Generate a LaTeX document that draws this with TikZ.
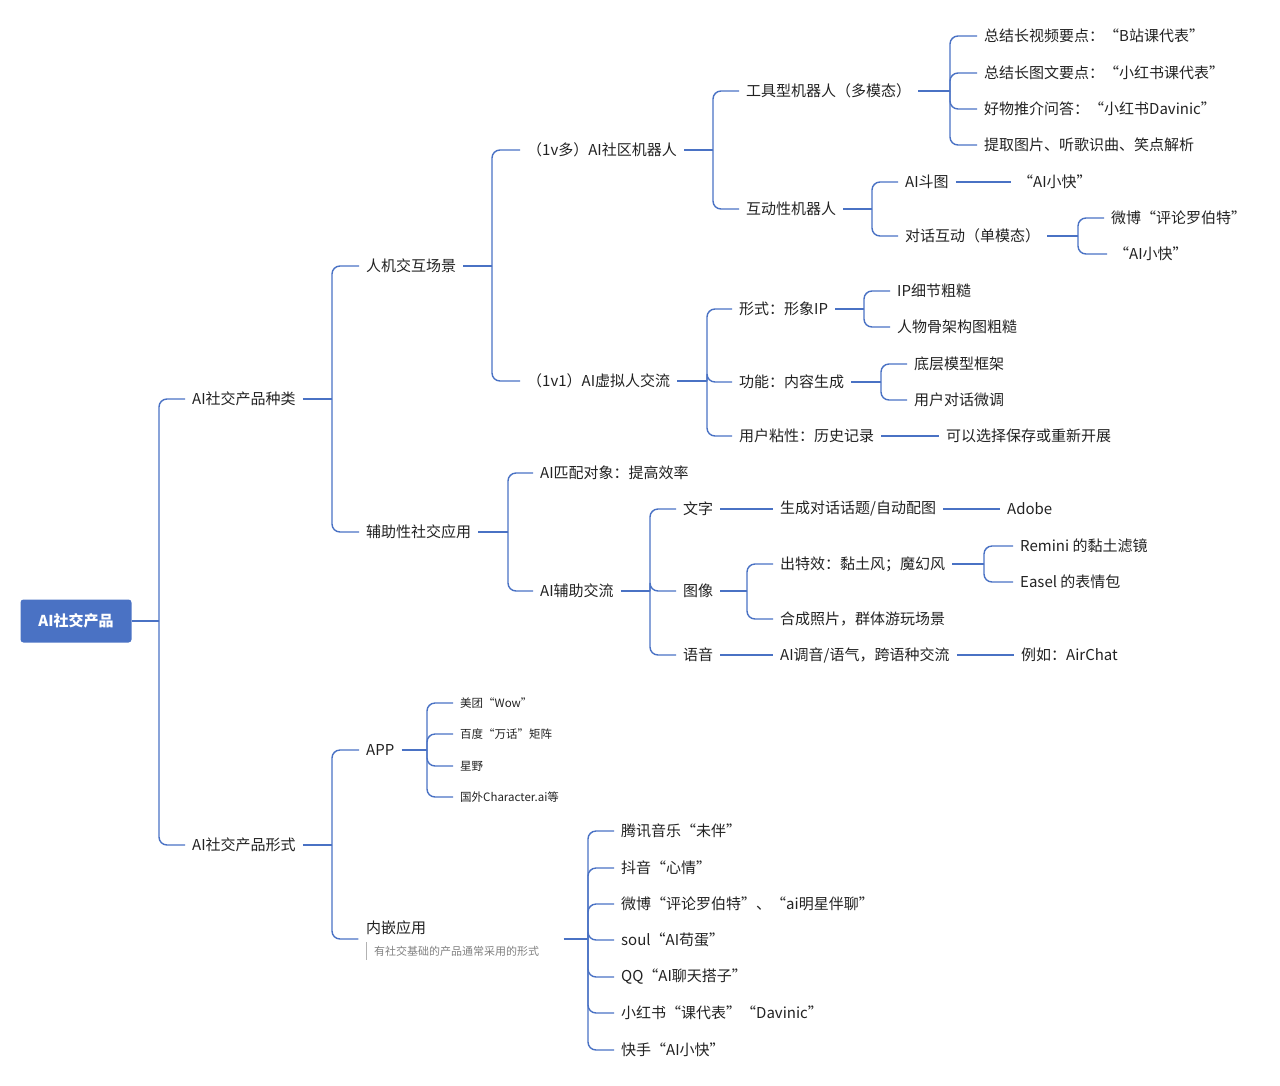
\documentclass[tikz,border=0pt]{standalone}
\usepackage{fontspec}
\setmainfont{Noto Sans CJK SC}
\usetikzlibrary{calc}
\definecolor{lc}{HTML}{4A72C4}
\definecolor{rootc}{HTML}{4A72C4}
\definecolor{tc}{HTML}{222222}
\tikzset{
 t/.style={anchor=west,inner xsep=7pt,inner ysep=2pt,xshift=-7pt,text=tc,font=\fontsize{15}{17}\selectfont},
 s/.style={t,font=\fontsize{11.5}{13}\selectfont},
 conn/.style={draw=lc,line width=1.4pt},
}
\newcommand\bra[3]{%
 \draw[conn] let \p1=(#1.east) in (\p1) -- (#2pt,\y1);
 \foreach \c in {#3}{\draw[conn,rounded corners=8pt] let \p1=(#1.east) in (#2pt,\y1) |- (\c.west);}}
\begin{document}
\begin{tikzpicture}[x=1pt,y=-1pt]
\useasboundingbox (0,0) rectangle (1280,1085);
\node[fill=rootc,rounded corners=3pt,minimum width=111pt,minimum height=43pt,text=white,font=\fontsize{15}{17}\selectfont\bfseries] (root) at (76,621) {AI社交产品};
\node[t] (a) at (192,399) {AI社交产品种类};
\node[t] (b) at (192,845) {AI社交产品形式};
\bra{root}{159}{a,b}
\node[t] (a1) at (366,266) {人机交互场景};
\node[t] (a2) at (366,532) {辅助性社交应用};
\bra{a}{332}{a1,a2}
\node[t] (m1) at (527,150) {（1v多）AI社区机器人};
\node[t] (m2) at (527,381) {（1v1）AI虚拟人交流};
\bra{a1}{492}{m1,m2}
\node[t] (g1) at (746,91) {工具型机器人（多模态）};
\node[t] (g2) at (746,209) {互动性机器人};
\bra{m1}{713}{g1,g2}
\node[t] (h1) at (984,36) {总结长视频要点：“B站课代表”};
\node[t] (h2) at (984,73) {总结长图文要点：“小红书课代表”};
\node[t] (h3) at (984,109) {好物推介问答：“小红书Davinic”};
\node[t] (h4) at (984,145) {提取图片、听歌识曲、笑点解析};
\bra{g1}{950}{h1,h2,h3,h4}
\node[t] (i1) at (905,182) {AI斗图};
\node[t] (i2) at (905,236) {对话互动（单模态）};
\bra{g2}{872}{i1,i2}
\node[t] (i1a) at (1018,182) {“AI小快”};
\draw[conn] (i1.east) -- (i1a.west);
\node[t] (j1) at (1111,218) {微博“评论罗伯特”};
\node[t] (j2) at (1114,254) {“AI小快”};
\bra{i2}{1078}{j1,j2}
\node[t] (k1) at (739,309) {形式：形象IP};
\node[t] (k2) at (739,382) {功能：内容生成};
\node[t] (k3) at (739,436) {用户粘性：历史记录};
\bra{m2}{707}{k1,k2,k3}
\node[t] (l1) at (897,291) {IP细节粗糙};
\node[t] (l2) at (897,327) {人物骨架构图粗糙};
\bra{k1}{864}{l1,l2}
\node[t] (l3) at (914,364) {底层模型框架};
\node[t] (l4) at (914,400) {用户对话微调};
\bra{k2}{881}{l3,l4}
\node[t] (l5) at (946,436) {可以选择保存或重新开展};
\draw[conn] (k3.east) -- (l5.west);
\node[t] (p1) at (540,473) {AI匹配对象：提高效率};
\node[t] (p2) at (540,591) {AI辅助交流};
\bra{a2}{508}{p1,p2}
\node[t] (q1) at (683,509) {文字};
\node[t] (q2) at (683,591) {图像};
\node[t] (q3) at (683,655) {语音};
\bra{p2}{650}{q1,q2,q3}
\node[t] (r1) at (780,509) {生成对话话题/自动配图};
\node[t] (r1a) at (1007,509) {Adobe};
\draw[conn] (q1.east) -- (r1.west);
\draw[conn] (r1.east) -- (r1a.west);
\node[t] (r2) at (780,564) {出特效：黏土风；魔幻风};
\node[t] (r3) at (780,619) {合成照片，群体游玩场景};
\bra{q2}{747}{r2,r3}
\node[t] (u1) at (1020,546) {Remini 的黏土滤镜};
\node[t] (u2) at (1020,582) {Easel 的表情包};
\bra{r2}{984}{u1,u2}
\node[t] (r4) at (780,655) {AI调音/语气，跨语种交流};
\node[t] (r4a) at (1021,655) {例如：AirChat};
\draw[conn] (q3.east) -- (r4.west);
\draw[conn] (r4.east) -- (r4a.west);
\node[t] (b1) at (366,750) {APP};
\node[t] (b2) at (366,928) {内嵌应用};
\node[inner sep=0pt] (embL) at (359,939) {};
\node[inner sep=0pt] (embR) at (563,939) {};
\draw[gray!60,line width=1pt] (366,942) -- (366,960);
\node[anchor=west,inner sep=0pt,text=gray,font=\fontsize{11}{13}\selectfont] (note) at (374,951) {有社交基础的产品通常采用的形式};
\bra{b}{332}{b1,embL}
\node[s] (v1) at (460,703) {美团“Wow”};
\node[s] (v2) at (460,734) {百度“万话”矩阵};
\node[s] (v3) at (460,766) {星野};
\node[s] (v4) at (460,797) {国外Character.ai等};
\bra{b1}{427}{v1,v2,v3,v4}
\node[t] (w1) at (621,831) {腾讯音乐“未伴”};
\node[t] (w2) at (621,868) {抖音“心情”};
\node[t] (w3) at (621,904) {微博“评论罗伯特”、“ai明星伴聊”};
\node[t] (w4) at (621,940) {soul“AI苟蛋”};
\node[t] (w5) at (621,977) {QQ“AI聊天搭子”};
\node[t] (w6) at (621,1013) {小红书“课代表”“Davinic”};
\node[t] (w7) at (621,1050) {快手“AI小快”};
\bra{embR}{588}{w1,w2,w3,w4,w5,w6,w7}
\end{tikzpicture}
\end{document}
